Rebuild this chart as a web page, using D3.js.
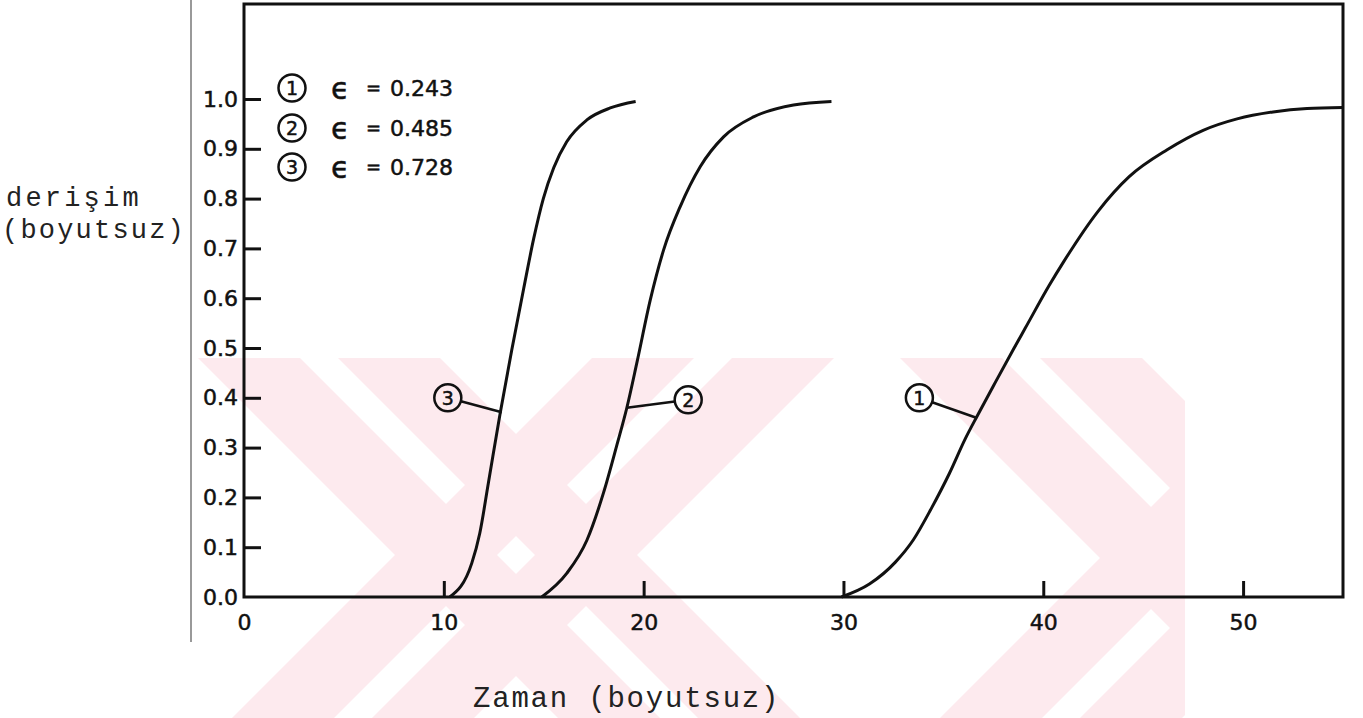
<!DOCTYPE html>
<html>
<head>
<meta charset="utf-8">
<title>derişim - zaman</title>
<script src="https://cdn.jsdelivr.net/npm/d3@7/dist/d3.min.js"></script>
<style>
  body { margin: 0; background: #fff; }
  .axis path, .axis line { stroke: #111; stroke-width: 3; }
  .axis text { font-family: 'DejaVu Sans', sans-serif; font-size: 22px; fill: #111; stroke: #111; stroke-width: 0.5; }
  .curve { fill: none; stroke: #111; stroke-width: 3; }
  .mono { font-family: 'Liberation Mono', monospace; fill: #222; }
  .legend text { font-family: 'DejaVu Sans', sans-serif; font-size: 22px; fill: #111; stroke: #111; stroke-width: 0.5; }
</style>
</head>
<body>
<svg id="chart"></svg>
<script>
  // tick labels
  var xTicks = [0, 10, 20, 30, 40, 50];
  var yTicks = [0, 0.1, 0.2, 0.3, 0.4, 0.5, 0.6, 0.7, 0.8, 0.9, 1.0];

  // series
  var t1 = [29.9, 31.3, 32.6, 33.5, 34.4, 35.3, 36.1, 36.7, 37.6, 38.5, 39.1, 40.3, 41.0, 42.75, 44.3, 46.2, 48.0, 49.7, 51.5, 53.2, 55.0];
  var c1 = [0, 0.026, 0.07, 0.115, 0.178, 0.248, 0.318, 0.364, 0.431, 0.497, 0.54, 0.626, 0.672, 0.775, 0.844, 0.898, 0.937, 0.96, 0.974, 0.981, 0.983];
  var t2 = [14.9, 16.16, 17.16, 17.99, 18.66, 19.16, 19.66, 20.33, 21.0, 21.83, 22.83, 24.0, 25.5, 27.5, 29.4];
  var c2 = [0, 0.048, 0.114, 0.209, 0.305, 0.38, 0.47, 0.596, 0.697, 0.784, 0.864, 0.924, 0.964, 0.988, 0.995];
  var t3 = [10.3, 11.4, 11.8, 12.23, 12.82, 13.4, 14.0, 14.5, 14.98, 15.5, 16.15, 17.16, 18.33, 19.6];
  var c3 = [0, 0.068, 0.128, 0.229, 0.369, 0.496, 0.62, 0.72, 0.80, 0.862, 0.914, 0.958, 0.982, 0.995];

  var curveNames = ['1', '2', '3'];
  var epsilons = ['0.243', '0.485', '0.728'];

  // numbered callouts (data coords): circle and point on curve
  var calloutX = [33.8, 22.23, 10.2];
  var calloutY = [0.40, 0.396, 0.40];
  var anchorX = [36.65, 19.16, 12.9];
  var anchorY = [0.36, 0.38, 0.371];

  var W = 1363, H = 718;
  var svg = d3.select('#chart').attr('width', W).attr('height', H);

  // pink watermark of the scan (diagonal bands)
  var wmTop = 358, wmBot = 718;
  var back = [[198, 300], [338, 440], [900, 1002], [1040, 1142]];
  var fwd = [[592, 694], [732, 834], [1300, 1402], [1440, 1542]];
  svg.append('clipPath').attr('id', 'wmclip')
    .append('rect').attr('x', 198).attr('y', wmTop).attr('width', 987).attr('height', wmBot - wmTop);
  var wm = svg.append('g').attr('clip-path', 'url(#wmclip)').style('fill', '#fdeaee');
  var span = wmBot - wmTop;
  back.forEach(function (b) {
    wm.append('polygon').attr('points', [[b[0], wmTop], [b[1], wmTop], [b[1] + span, wmBot], [b[0] + span, wmBot]].join(' '));
  });
  fwd.forEach(function (b) {
    wm.append('polygon').attr('points', [[b[0], wmTop], [b[1], wmTop], [b[1] - span, wmBot], [b[0] - span, wmBot]].join(' '));
  });

  // scan edge line
  svg.append('line').attr('x1', 191).attr('x2', 191).attr('y1', 0).attr('y2', 642)
    .style('stroke', '#555').style('stroke-width', 1.2);

  var x = d3.scaleLinear().domain([0, 55]).range([244, 1343]);
  var y = d3.scaleLinear().domain([0, 1]).range([597, 99]);
  var frameTop = 4;

  var xAxis = d3.axisBottom(x).tickValues(xTicks).tickSize(-16).tickSizeOuter(0).tickPadding(17)
    .tickFormat(d3.format('d'));
  var yAxis = d3.axisLeft(y).tickValues(yTicks).tickSize(-17).tickSizeOuter(0).tickPadding(6)
    .tickFormat(d3.format('.1f'));

  var gx = svg.append('g').attr('class', 'axis')
    .attr('transform', 'translate(0,' + y(0) + ')').call(xAxis);
  gx.selectAll('.tick').filter(function (d) { return d === 0; }).select('line').remove();
  gx.select('.domain').remove();

  var gy = svg.append('g').attr('class', 'axis')
    .attr('transform', 'translate(' + x(0) + ',0)').call(yAxis);
  gy.selectAll('.tick').filter(function (d) { return d === 0; }).select('line').remove();
  gy.select('.domain').remove();

  // frame
  svg.append('path')
    .attr('d', 'M' + x(0) + ',' + frameTop + 'V' + y(0) + 'H' + x(55) + 'V' + frameTop + 'Z')
    .style('fill', 'none').style('stroke', '#111').style('stroke-width', 3);

  var line = d3.line().x(function (d) { return x(d[0]); }).y(function (d) { return y(d[1]); })
    .curve(d3.curveMonotoneX);
  [[t1, c1], [t2, c2], [t3, c3]].forEach(function (s) {
    svg.append('path').attr('class', 'curve').attr('d', line(d3.zip(s[0], s[1])));
  });

  // callouts
  var r = 13.5;
  curveNames.forEach(function (n, i) {
    var cx = x(calloutX[i]), cy = y(calloutY[i]);
    var ax = x(anchorX[i]), ay = y(anchorY[i]);
    var dx = ax - cx, dy = ay - cy, L = Math.sqrt(dx * dx + dy * dy);
    svg.append('line').attr('x1', cx + dx / L * r).attr('y1', cy + dy / L * r).attr('x2', ax).attr('y2', ay)
      .style('stroke', '#111').style('stroke-width', 2.5);
    svg.append('circle').attr('cx', cx).attr('cy', cy).attr('r', r)
      .style('fill', 'none').style('stroke', '#111').style('stroke-width', 2.5);
    svg.append('text').attr('x', cx).attr('y', cy).attr('dy', '0.36em').attr('text-anchor', 'middle')
      .style('font-family', 'DejaVu Sans').style('font-size', '19px').style('fill', '#111')
      .style('stroke', '#111').style('stroke-width', 0.5).text(n);
  });

  // legend
  var legY = d3.scaleOrdinal().domain(curveNames).range([88, 128, 167]);
  var leg = svg.append('g').attr('class', 'legend');
  curveNames.forEach(function (n, i) {
    var cy = legY(n);
    leg.append('circle').attr('cx', 292).attr('cy', cy).attr('r', r)
      .style('fill', 'none').style('stroke', '#111').style('stroke-width', 2.5);
    leg.append('text').attr('x', 292).attr('y', cy).attr('dy', '0.36em').attr('text-anchor', 'middle')
      .style('font-size', '19px').text(n);
    leg.append('text').attr('x', 331).attr('y', cy).attr('dy', '0.36em').style('font-size', '30px').text('\u03F5');
    leg.append('text').attr('x', 366).attr('y', cy).attr('dy', '0.36em').style('font-size', '18px').text('=');
    leg.append('text').attr('x', 390).attr('y', cy).attr('dy', '0.36em').text(epsilons[i]);
  });

  // axis titles
  svg.append('text').attr('class', 'mono').attr('x', 6).attr('y', 206)
    .style('font-size', '27px').style('letter-spacing', '3.2px').text('derişim');
  svg.append('text').attr('class', 'mono').attr('x', 2).attr('y', 238)
    .style('font-size', '27px').style('letter-spacing', '2.2px').text('(boyutsuz)');
  svg.append('text').attr('class', 'mono').attr('x', 473).attr('y', 707)
    .style('font-size', '29px').style('letter-spacing', '1.8px').text('Zaman (boyutsuz)');
</script>
</body>
</html>
